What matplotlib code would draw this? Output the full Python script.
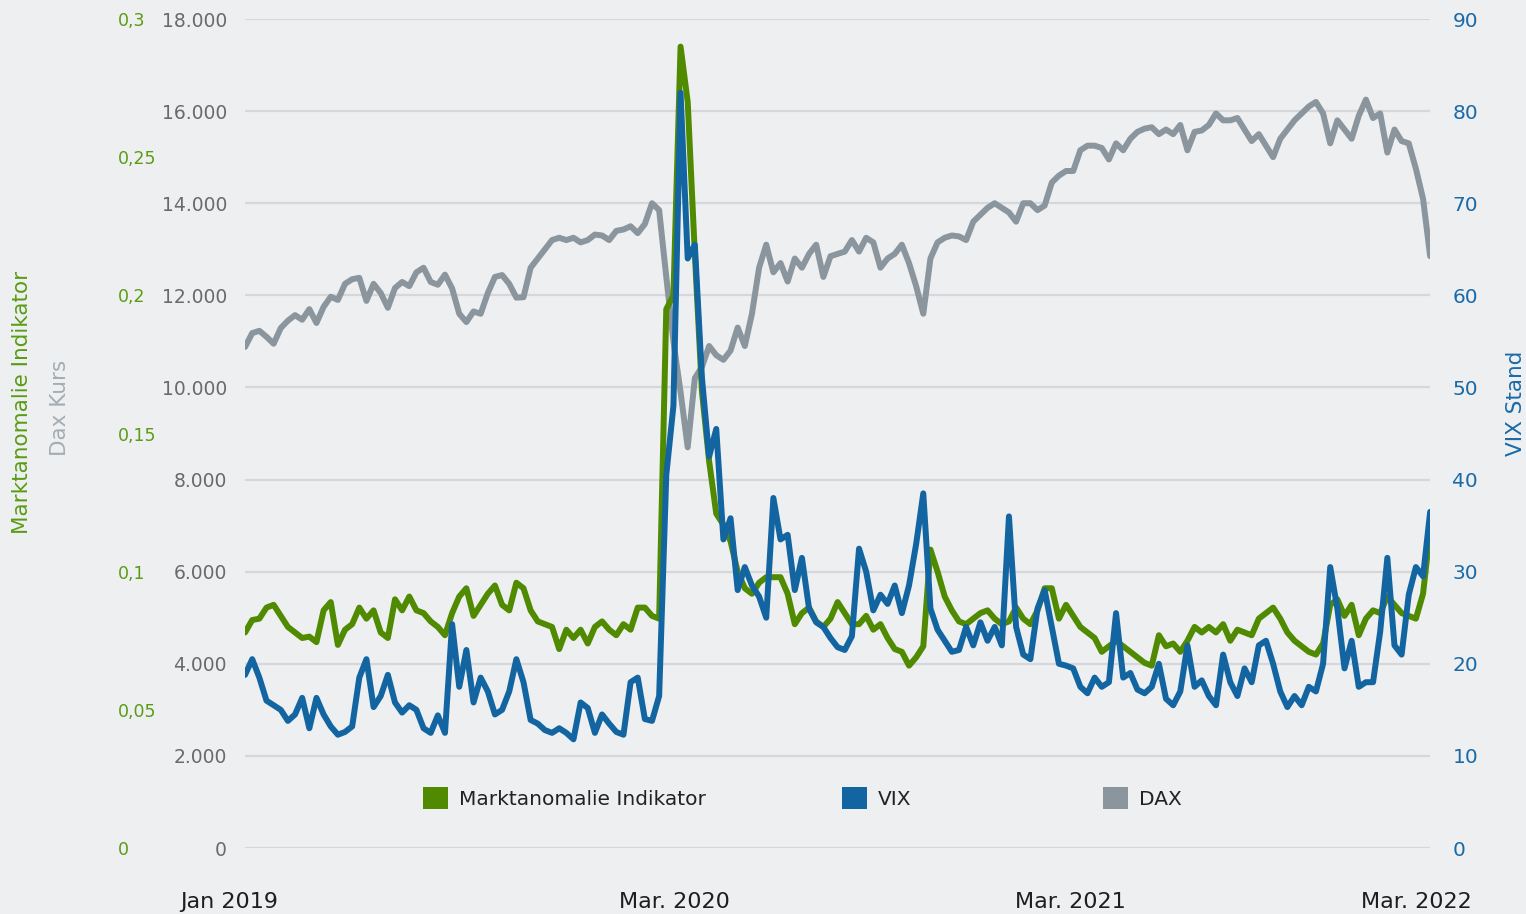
import matplotlib.pyplot as plt
from matplotlib.patches import Patch
import pandas as pd

# Wochenwerte, Jan 2019 bis Mär 2022
dates = pd.date_range("2019-01-02", periods=167, freq="7D")

dax = [
    10880, 11180, 11230, 11100, 10950, 11290, 11450, 11570, 11470, 11700,
    11400, 11750, 11970, 11900, 12250, 12350, 12380, 11880, 12250, 12050,
    11730, 12160, 12290, 12200, 12500, 12600, 12290, 12230, 12450, 12150,
    11600, 11420, 11650, 11600, 12050, 12400, 12440, 12250, 11950, 11960,
    12600, 12800, 13000, 13200, 13250, 13200, 13250, 13150, 13200, 13320,
    13300, 13200, 13400, 13430, 13500, 13350, 13550, 14000, 13850, 12400,
    11000, 9900, 8700, 10200, 10450, 10900, 10700, 10600, 10800, 11300,
    10900, 11600, 12600, 13100, 12500, 12700, 12300, 12800, 12600, 12900,
    13100, 12400, 12850, 12900, 12950, 13200, 12950, 13250, 13150, 12600,
    12800, 12900, 13100, 12700, 12200, 11600, 12800, 13150, 13250, 13300,
    13280, 13200, 13600, 13750, 13900, 14000, 13900, 13800, 13600, 14000,
    14000, 13850, 13950, 14450, 14600, 14700, 14700, 15150, 15250, 15250,
    15200, 14950, 15300, 15150, 15400, 15550, 15620, 15650, 15500, 15600,
    15500, 15700, 15150, 15550, 15580, 15700, 15950, 15800, 15800, 15850,
    15600, 15350, 15500, 15250, 15000, 15400, 15600, 15800, 15950, 16100,
    16200, 15950, 15300, 15800, 15600, 15400, 15900, 16250, 15850, 15950,
    15100, 15600, 15350, 15300, 14750, 14100, 12850,
]

vix = [
    18.8, 20.5, 18.5, 16.0, 15.5, 15.0, 13.8, 14.5, 16.3, 13.0,
    16.3, 14.5, 13.2, 12.3, 12.6, 13.2, 18.5, 20.5, 15.3, 16.5,
    18.8, 15.8, 14.7, 15.5, 15.0, 13.0, 12.5, 14.4, 12.5, 24.3,
    17.5, 21.5, 15.8, 18.5, 17.0, 14.5, 15.0, 17.0, 20.5, 18.0,
    13.9, 13.5, 12.8, 12.5, 13.0, 12.5, 11.8, 15.8, 15.2, 12.5,
    14.5, 13.5, 12.6, 12.3, 18.0, 18.5, 14.0, 13.8, 16.5, 40.5,
    48.0, 82.0, 64.0, 65.5, 51.0, 42.5, 45.5, 33.5, 35.8, 28.0,
    30.5, 28.5, 27.3, 25.0, 38.0, 33.5, 34.0, 28.0, 31.5, 26.0,
    24.5, 24.0, 22.8, 21.8, 21.5, 23.0, 32.5, 30.0, 25.8, 27.5,
    26.5, 28.5, 25.5, 28.5, 33.0, 38.5, 26.0, 23.7, 22.5, 21.3,
    21.5, 24.0, 22.0, 24.5, 22.5, 24.0, 22.0, 36.0, 24.0, 21.0,
    20.5, 26.0, 28.0, 24.0, 20.0, 19.8, 19.5, 17.5, 16.8, 18.5,
    17.5, 18.0, 25.5, 18.5, 19.0, 17.2, 16.8, 17.5, 20.0, 16.2,
    15.5, 17.0, 22.0, 17.5, 18.2, 16.5, 15.5, 21.0, 18.0, 16.5,
    19.5, 18.0, 22.0, 22.5, 20.0, 17.0, 15.3, 16.5, 15.5, 17.5,
    17.0, 20.0, 30.5, 26.0, 19.5, 22.5, 17.5, 18.0, 18.0, 23.5,
    31.5, 22.0, 21.0, 27.5, 30.5, 29.5, 36.5,
]

indikator = [
    0.078, 0.0825, 0.083, 0.087, 0.088, 0.084, 0.080, 0.078, 0.076, 0.0765,
    0.0745, 0.086, 0.089, 0.0735, 0.079, 0.081, 0.087, 0.083, 0.086, 0.078,
    0.076, 0.090, 0.086, 0.091, 0.086, 0.085, 0.082, 0.080, 0.077, 0.085,
    0.091, 0.094, 0.084, 0.088, 0.092, 0.095, 0.088, 0.086, 0.096, 0.094,
    0.086, 0.082, 0.081, 0.080, 0.072, 0.079, 0.076, 0.079, 0.074, 0.080,
    0.082, 0.079, 0.077, 0.081, 0.079, 0.087, 0.087, 0.084, 0.083, 0.195,
    0.200, 0.290, 0.270, 0.215, 0.165, 0.140, 0.121, 0.117, 0.111, 0.100,
    0.094, 0.092, 0.096, 0.098, 0.098, 0.098, 0.092, 0.081, 0.085, 0.087,
    0.082, 0.080, 0.083, 0.089, 0.085, 0.081, 0.081, 0.084, 0.079, 0.081,
    0.076, 0.072, 0.071, 0.066, 0.069, 0.073, 0.108, 0.100, 0.091, 0.086,
    0.082, 0.081, 0.083, 0.085, 0.086, 0.083, 0.081, 0.082, 0.087, 0.083,
    0.081, 0.086, 0.094, 0.094, 0.083, 0.088, 0.084, 0.080, 0.078, 0.076,
    0.071, 0.073, 0.075, 0.073, 0.071, 0.069, 0.067, 0.066, 0.077, 0.073,
    0.074, 0.071, 0.075, 0.080, 0.078, 0.080, 0.078, 0.081, 0.075, 0.079,
    0.078, 0.077, 0.083, 0.085, 0.087, 0.083, 0.078, 0.075, 0.073, 0.071,
    0.070, 0.074, 0.088, 0.090, 0.084, 0.088, 0.077, 0.083, 0.086, 0.085,
    0.091, 0.088, 0.085, 0.084, 0.083, 0.092, 0.115,
]

dax_ticks = list(range(0, 18001, 2000))
dax_labels = ["0", "2.000", "4.000", "6.000", "8.000", "10.000", "12.000", "14.000", "16.000", "18.000"]
vix_ticks = list(range(0, 91, 10))
ind_ticks = [0, 0.05, 0.1, 0.15, 0.2, 0.25, 0.3]
ind_labels = ["0", "0,05", "0,1", "0,15", "0,2", "0,25", "0,3"]
x_labels = ["Jan 2019", "Mar. 2020", "Mar. 2021", "Mar. 2022"]
x_label_pos = [-0.013, 0.362, 0.696, 0.988]

GREEN = "#4f8a00"
BLUE = "#1365a2"
GRAY = "#8a959d"
BG = "#edeff1"

plt.rcParams["font.family"] = ["DejaVu Sans"]

fig = plt.figure(figsize=(15.26, 9.14), dpi=100, facecolor=BG)
ax = fig.add_axes([0.1606, 0.0722, 0.7766, 0.907])
ax.set_facecolor(BG)
ax_g = ax.twinx()
ax_v = ax.twinx()

for a in (ax, ax_g, ax_v):
    for s in a.spines.values():
        s.set_visible(False)

# DAX (Achse links innen)
ax.plot(dates, dax, color=GRAY, lw=4.3, solid_joinstyle="round", solid_capstyle="round")
ax.set_ylim(0, 18000)
ax.set_yticks(dax_ticks)
ax.set_yticklabels(dax_labels)
ax.tick_params(axis="y", length=0, pad=13, labelsize=13.5, labelcolor="#6a6a6a")
ax.grid(axis="y", color="#d5d7da", lw=1.6)
ax.set_axisbelow(True)
ax.set_xlim(dates[0], dates[-1])
ax.set_xticks([])

# Indikator (Achse links aussen)
ax_g.plot(dates, indikator, color=GREEN, lw=4.3, solid_joinstyle="round", solid_capstyle="round")
ax_g.set_ylim(0, 0.3)
ax_g.yaxis.set_ticks_position("left")
ax_g.set_yticks(ind_ticks)
ax_g.set_yticklabels(ind_labels)
ax_g.tick_params(axis="y", length=0, pad=91.5, labelsize=12.5, labelcolor="#5a9c14")
for lab in ax_g.get_yticklabels():
    lab.set_ha("left")

# VIX (Achse rechts)
ax_v.plot(dates, vix, color=BLUE, lw=4.3, solid_joinstyle="round", solid_capstyle="round")
ax_v.set_ylim(0, 90)
ax_v.set_yticks(vix_ticks)
ax_v.tick_params(axis="y", length=0, pad=16, labelsize=14.5, labelcolor="#1a6aa8")

# Achsentitel
ax.text(-0.188, 0.537, "Marktanomalie Indikator", transform=ax.transAxes, rotation=90,
        ha="center", va="center", fontsize=15.5, color="#5a9c14")
ax.text(-0.156, 0.531, "Dax Kurs", transform=ax.transAxes, rotation=90,
        ha="center", va="center", fontsize=15.5, color="#a5adb3")
ax.text(1.0726, 0.537, "VIX Stand", transform=ax.transAxes, rotation=90,
        ha="center", va="center", fontsize=15.5, color="#1a6aa8")

# Zeitachse
for pos, lab in zip(x_label_pos, x_labels):
    ax.text(pos, -0.065, lab, transform=ax.transAxes, ha="center", va="center",
            fontsize=16, color="#1e1e1e")

# Legende
entries = [("Marktanomalie Indikator", GREEN, 0.2772),
           ("VIX", BLUE, 0.5518),
           ("DAX", GRAY, 0.7228)]
for name, col, xpos in entries:
    fig.legend(handles=[Patch(facecolor=col, edgecolor="none")], labels=[name],
               loc="center left", bbox_to_anchor=(xpos, 0.1269), frameon=False,
               borderpad=0, borderaxespad=0, handlelength=1.25, handleheight=1.25,
               handletextpad=0.55, fontsize=14.5, labelcolor="#222222")

fig.savefig("out.png", dpi=100, facecolor=BG)
